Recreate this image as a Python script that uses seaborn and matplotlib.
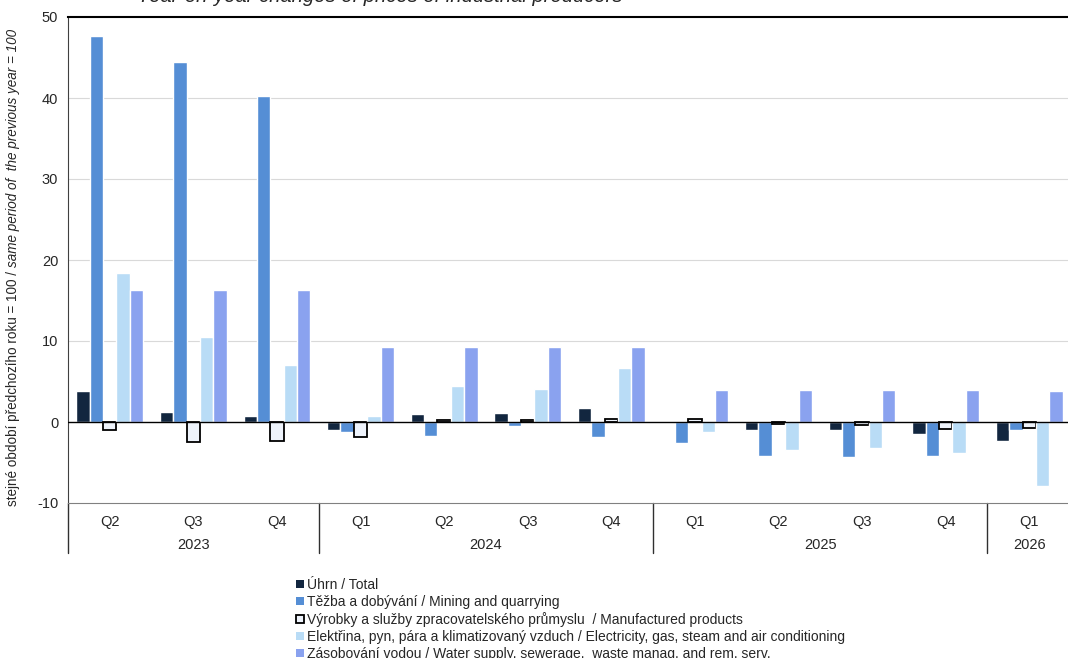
import numpy as np
import pandas as pd
import seaborn as sns
import matplotlib.pyplot as plt
from matplotlib.lines import Line2D
from matplotlib.transforms import blended_transform_factory

quarters = ["Q2", "Q3", "Q4", "Q1", "Q2", "Q3", "Q4", "Q1", "Q2", "Q3", "Q4", "Q1"]
years = ["2023", "2023", "2023", "2024", "2024", "2024", "2024",
         "2025", "2025", "2025", "2025", "2026"]

series_names = [
  "Úhrn / Total",
  "Těžba a dobývání / Mining and quarrying",
  "Výrobky a služby zpracovatelského průmyslu  / Manufactured products",
  "Elektřina, pyn, pára a klimatizovaný vzduch / Electricity, gas, steam and air conditioning",
  "Zásobování vodou / Water supply, sewerage,  waste manag. and rem. serv.",
]

total = [3.8, 1.2, 0.7, -1.0, 1.0, 1.1, 1.7, 0.0, -1.0, -1.0, -1.5, -2.3]
mining = [47.7, 44.4, 40.2, -1.2, -1.7, -0.5, -1.8, -2.6, -4.2, -4.3, -4.2, -1.0]
manufactured = [-1.0, -2.5, -2.4, -1.8, 0.2, 0.3, 0.4, 0.4, -0.3, -0.4, -0.9, -0.8]
electricity = [18.4, 10.5, 7.0, 0.7, 4.4, 4.1, 6.7, -1.2, -3.4, -3.2, -3.8, -7.9]
water = [16.3, 16.3, 16.3, 9.2, 9.2, 9.2, 9.2, 4.0, 4.0, 4.0, 4.0, 3.8]

colors = ["#12263f", "#558ed5", "#eef3fb", "#b9dcf6", "#8aa2ef"]

rows = []
for name, vals in zip(series_names, [total, mining, manufactured, electricity, water]):
  for i, v in enumerate(vals):
    rows.append({"period": i, "series": name, "value": v})
df = pd.DataFrame(rows)

sns.set_style("white")
plt.rcParams["font.family"] = ["Liberation Sans", "DejaVu Sans"]
plt.rcParams["axes.unicode_minus"] = False

fig = plt.figure(figsize=(10.68, 6.58), dpi=100)
ax = fig.add_axes([68 / 1068, 1 - 503 / 658, (1071 - 68) / 1068, (503 - 17) / 658])

sns.barplot(data=df, x="period", y="value", hue="series", hue_order=series_names,
            palette=dict(zip(series_names, colors)), width=0.8, saturation=1,
            legend=False, ax=ax)

# manufactured bars get a black outline
for p in ax.containers[2]:
  p.set_edgecolor("black")
  p.set_linewidth(1.3)

ax.set_ylim(-10, 50)
ax.set_xlim(-0.5, len(quarters) - 0.5)
ax.set_yticks(range(-10, 51, 10))
ax.tick_params(axis="y", labelsize=10.5, length=0, pad=7)
ax.set_xticks([])
ax.set_xlabel("")
ax.set_ylabel("")
for y in range(10, 50, 10):
  ax.axhline(y, color="#d9d9d9", lw=0.8, zorder=0)
ax.axhline(0, color="black", lw=1.0, zorder=3)
ax.spines["right"].set_visible(False)
ax.spines["top"].set_color("black")
ax.spines["top"].set_linewidth(1.5)
ax.spines["left"].set_color("#404040")
ax.spines["bottom"].set_color("#808080")

# multi level category axis
trans = blended_transform_factory(ax.transData, ax.transAxes)
px = 1 / (503 - 17)
for i, q in enumerate(quarters):
  ax.text(i, -19 * px, q, transform=trans, ha="center", va="center", fontsize=10.5)
bounds = [0] + [i for i in range(1, len(years)) if years[i] != years[i - 1]] + [len(years)]
for a, b in zip(bounds[:-1], bounds[1:]):
  ax.text((a + b - 1) / 2, -42 * px, years[a], transform=trans, ha="center", va="center", fontsize=10.5)
for b in bounds[:-1]:
  ax.plot([b - 0.5, b - 0.5], [0, -50 * px], transform=trans, color="#303030", lw=1.0, clip_on=False)

# y label, plain + italic part
t1 = fig.text(13 / 1068, 1 - 506 / 658, "stejné období předchozího roku = 100 / ",
              rotation=90, ha="center", va="bottom", fontsize=9.75)
ax.annotate("same period of  the previous year = 100", xy=(0.5, 1), xycoords=t1,
            rotation=90, ha="center", va="bottom", fontsize=9.75, style="italic",
            annotation_clip=False)

fig.text(380 / 1068, 1 - 2 / 658, "Year-on-year changes of prices of industrial producers",
         ha="center", va="baseline", fontsize=14.5, style="italic")

handles = []
for c in colors:
  ec = "black" if c == colors[2] else c
  handles.append(Line2D([], [], marker="s", linestyle="", markersize=6,
                        markerfacecolor=c, markeredgecolor=ec, markeredgewidth=1.3 if ec == "black" else 0))
fig.legend(handles, series_names, loc="upper left", bbox_to_anchor=(296 / 1068, 1 - 578 / 658),
           frameon=False, fontsize=10, handlelength=0.6, handletextpad=0.2,
           labelspacing=0.22, borderpad=0, borderaxespad=0)

fig.savefig("out.png", dpi=100)
